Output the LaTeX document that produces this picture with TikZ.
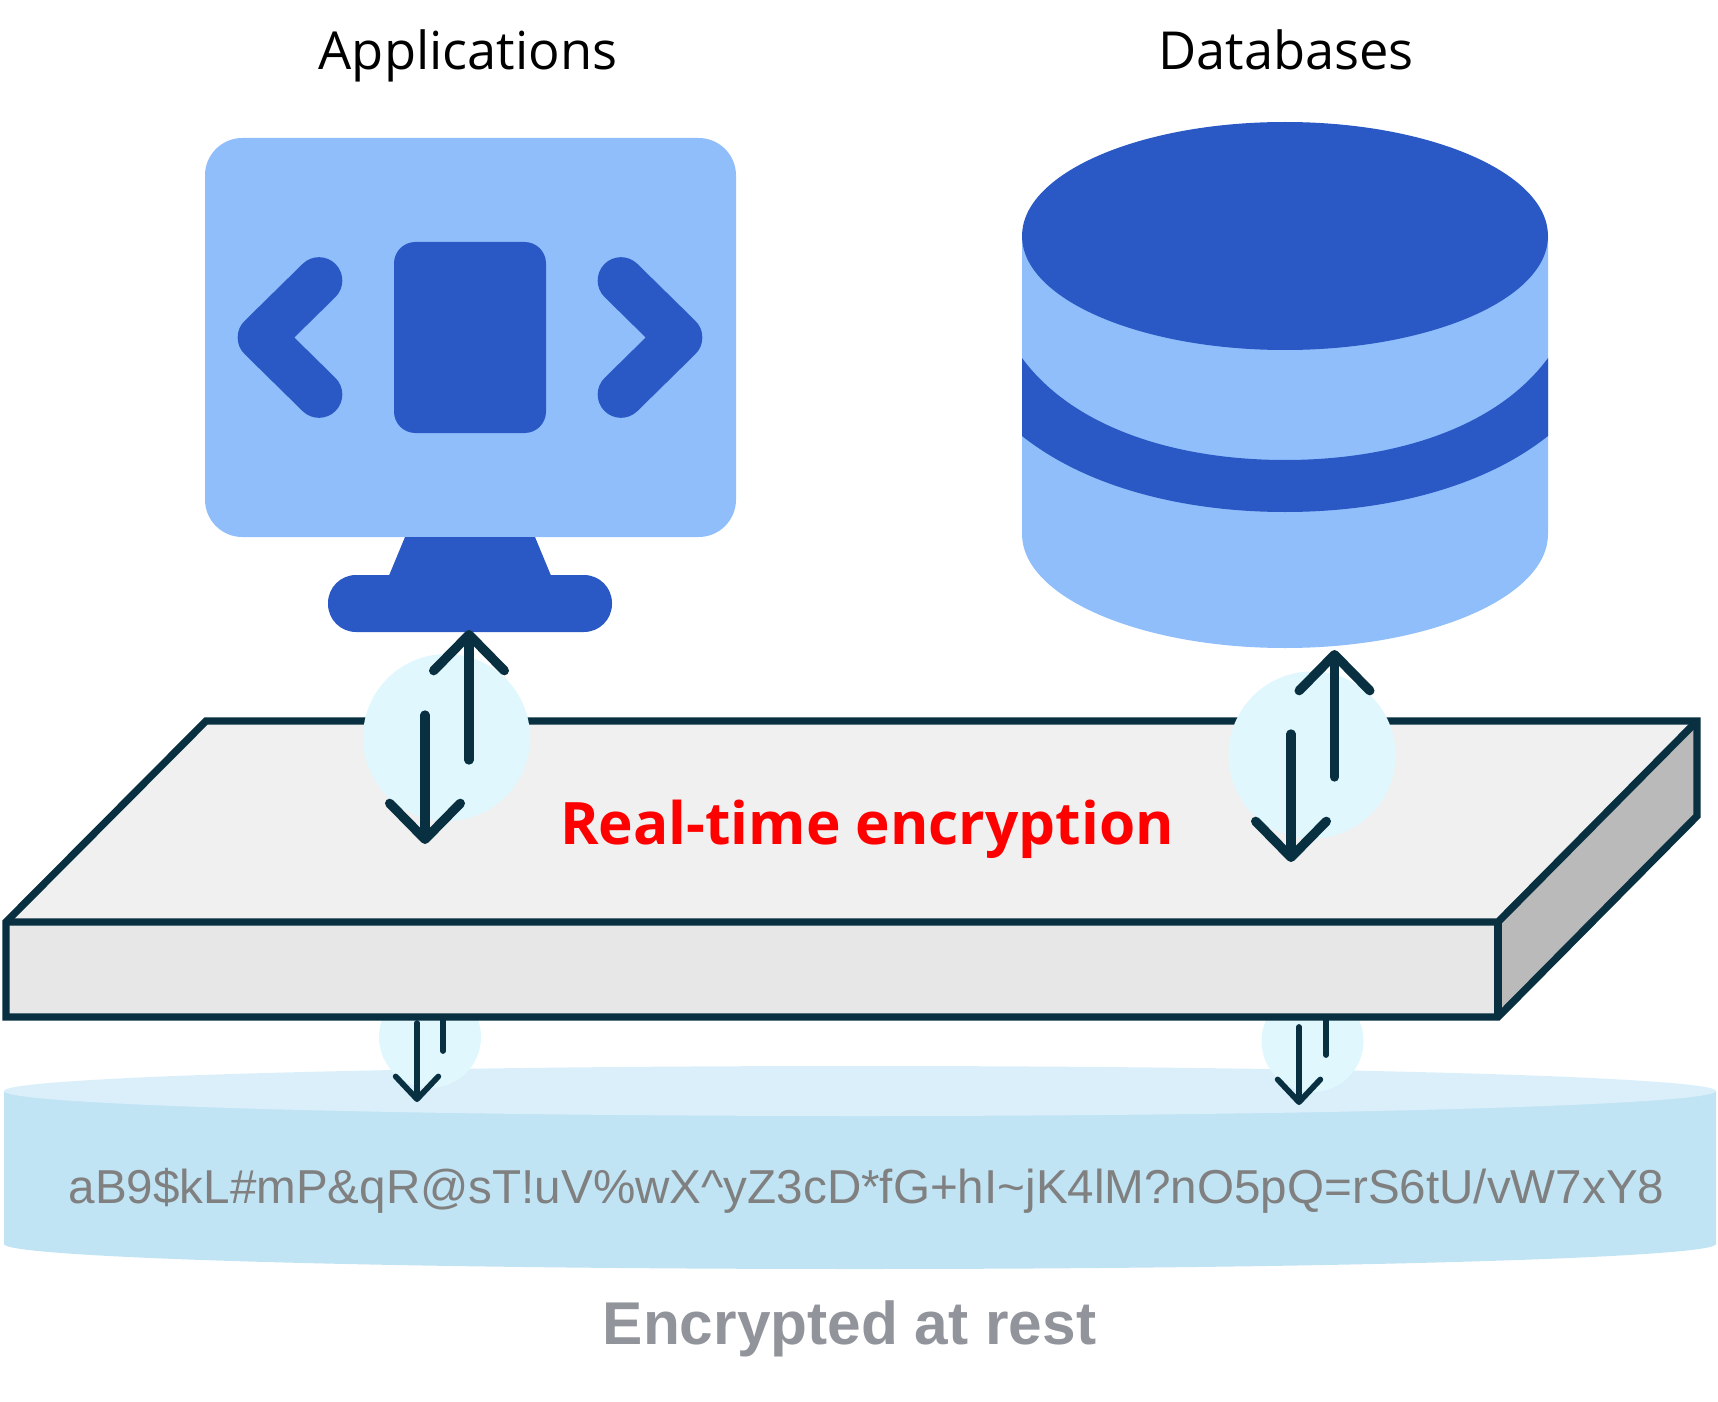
\documentclass[tikz,border=0pt]{standalone}
\usepackage{fontspec}
\setmainfont{Liberation Sans}
\newfontfamily\labelfont{Open Sans}
\usetikzlibrary{arrows.meta,positioning,shapes.geometric}
\definecolor{lightblue}{HTML}{8FBEFB}
\definecolor{darkblue}{HTML}{2A59C6}
\definecolor{edgecol}{HTML}{083040}
\definecolor{halo}{HTML}{DFF7FD}
\definecolor{disktop}{HTML}{DAEFFA}
\definecolor{diskbody}{HTML}{C1E4F5}

\begin{document}
\begin{tikzpicture}[
  x=0.75pt, y=-0.75pt,
  solid/.style={inner sep=0pt, outer sep=0pt, minimum width=#1*0.75pt},
  halonode/.style={circle, fill=halo, inner sep=0pt, outer sep=0pt, minimum size=#1*0.75pt},
  edgeline/.style={draw=edgecol, line width=5.5pt, line join=miter},
  arrow/.style={-{Straight Barb[length=27pt,width=53pt,round]}, line width=7pt, line cap=round, edgecol},
  thinarrow/.style={-{Straight Barb[length=17pt,width=32pt,round]}, line width=4.3pt, line cap=round, edgecol},
  chevron/.style={draw=darkblue, line width=35pt, line cap=round, line join=round}
]
\useasboundingbox (0,0) rectangle (1718,1402);

\node[anchor=base, font=\labelfont\fontsize{39.3}{39}\selectfont] (apps) at (468,70) {Applications};
\node[anchor=base, font=\labelfont\fontsize{39.3}{39}\selectfont] (dbs) at (1286,70) {Databases};

\node[solid=531, minimum height=399*0.75pt, fill=lightblue, rounded corners=28pt] (screen) at (470.5,337.5) {};
\fill[darkblue] (405,537) -- (535,537) -- (552,578) -- (388,578) -- cycle;
\node[solid=284, minimum height=57*0.75pt, fill=darkblue, rounded corners=21pt] (stand) at (470,603.5) {};
\node[solid=152, minimum height=191*0.75pt, fill=darkblue, rounded corners=16pt] (core) at (470,337.5) {};
\draw[chevron] (319,280.5) -- (261,337.5) -- (319,394.5);
\draw[chevron] (621,280.5) -- (679,337.5) -- (621,394.5);

\fill[lightblue] (1022,236) -- (1022,534) arc[start angle=180, end angle=0, x radius=263, y radius=114] -- (1548,236) -- cycle;
\fill[darkblue] (1022,358) .. controls (1075,430) and (1180,460) .. (1285,460) .. controls (1390,460) and (1495,430) .. (1548,358)
  -- (1548,436) .. controls (1480,490) and (1380,512) .. (1285,512) .. controls (1190,512) and (1090,490) .. (1022,436) -- cycle;
\node[ellipse, solid=526, minimum height=228*0.75pt, fill=darkblue] (dbtop) at (1285,236) {};

\fill[diskbody] (4,1091) -- (4,1244) arc[start angle=180, end angle=0, x radius=856, y radius=25] -- (1716,1091) -- cycle;
\node[ellipse, solid=1712, minimum height=50*0.75pt, fill=disktop] (disktop) at (860,1091) {};

\node[halonode=102] (haloa) at (430,1037) {};
\node[halonode=102] (halob) at (1312.5,1041) {};

\coordinate (astub) at (443,1051);
\coordinate (astubtop) at (443,1015);
\coordinate (bstub) at (1326,1055);
\coordinate (bstubtop) at (1326,1015);
\coordinate (adowntop) at (417,1023);
\coordinate (adowntip) at (417,1102);
\coordinate (bdowntop) at (1299,1027);
\coordinate (bdowntip) at (1299,1105);
\draw[line width=4.3pt, line cap=round, edgecol] (astubtop) -- (astub);
\draw[line width=4.3pt, line cap=round, edgecol] (bstubtop) -- (bstub);
\draw[thinarrow] (adowntop) -- (adowntip);
\draw[thinarrow] (bdowntop) -- (bdowntip);

\coordinate (nw) at (206,721);
\coordinate (ne) at (1697,721);
\coordinate (fl) at (6,922);
\coordinate (fr) at (1498,922);
\coordinate (bl) at (6,1017);
\coordinate (br) at (1498,1017);
\coordinate (se) at (1697,816);
\fill[black!6] (fl) -- (nw) -- (ne) -- (fr) -- cycle;
\fill[black!27] (fr) -- (ne) -- (se) -- (br) -- cycle;
\fill[black!9.5] (fl) -- (fr) -- (br) -- (bl) -- cycle;
\draw[edgeline] (fl) -- (nw) -- (ne) -- (se) -- (br) -- (bl) -- cycle;
\draw[edgeline] (fl) -- (fr) -- (ne);
\draw[edgeline] (fr) -- (br);

\node[halonode=167] (haloc) at (446.5,737.5) {};
\node[halonode=167] (halod) at (1312,755) {};

\coordinate (cuptail) at (469,760);
\coordinate (cuptip) at (469,630);
\coordinate (cdowntail) at (425,715);
\coordinate (cdowntip) at (425,844);
\coordinate (duptail) at (1334.5,777);
\coordinate (duptip) at (1334.5,650);
\coordinate (ddowntail) at (1291,734);
\coordinate (ddowntip) at (1291,862);
\draw[arrow] (cuptail) -- (cuptip);
\draw[arrow] (cdowntail) -- (cdowntip);
\draw[arrow] (duptail) -- (duptip);
\draw[arrow] (ddowntail) -- (ddowntip);

\node[anchor=base, font=\labelfont\bfseries\fontsize{43.9}{44}\selectfont, text=red] (realtime) at (867,844) {Real-time encryption};
\node[anchor=base, font=\fontsize{35.7}{36}\selectfont, text=black!50] (cipher) at (866.5,1203) {aB9\$kL\#mP\&qR@sT!uV\%wX\^{}yZ3cD*fG+hI\textasciitilde jK4lM?nO5pQ=rS6tU/vW7xY8};
\node[anchor=base, font=\bfseries\fontsize{45.3}{46}\selectfont, text={rgb,255:red,146;green,148;blue,156}] (atrest) at (849.5,1344) {Encrypted at rest};
\end{tikzpicture}
\end{document}
